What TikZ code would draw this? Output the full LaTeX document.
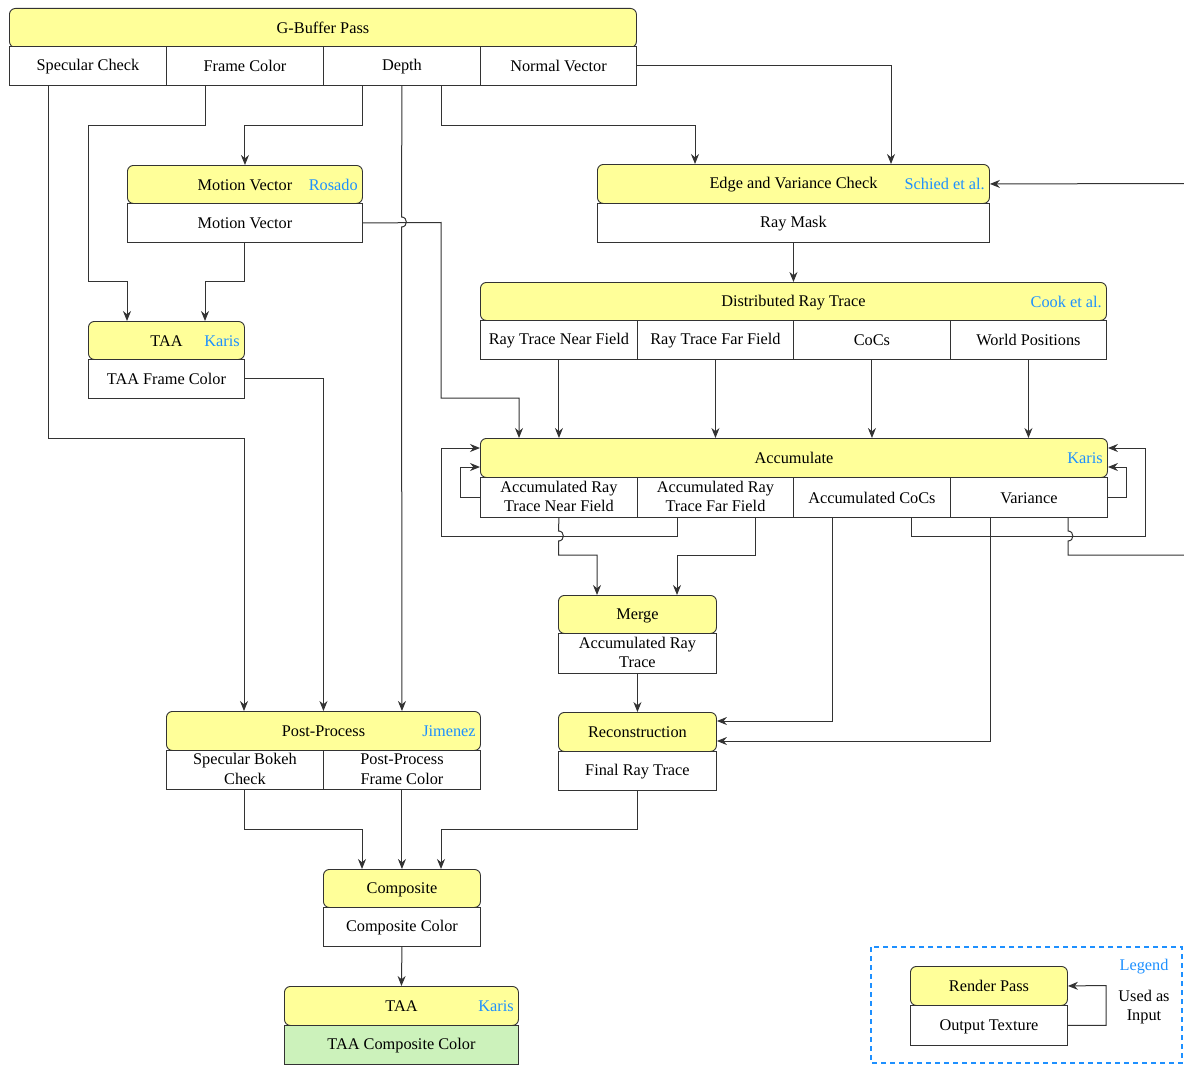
\documentclass[tikz,border=0pt]{standalone}
\usepackage{fontspec}
\setmainfont{Liberation Serif}
\usetikzlibrary{arrows.meta}

\definecolor{passyellow}{RGB}{255,255,153}
\definecolor{texgreen}{RGB}{204,242,187}
\definecolor{citeblue}{RGB}{30,144,255}
\definecolor{linegray}{RGB}{51,51,51}

\newcommand\boxstrut{\rule[-2pt]{0pt}{15.5pt}}

\tikzset{
  pass/.style={draw=linegray, line width=0.9pt, fill=passyellow, rounded corners=6pt,
    anchor=north west, inner sep=0pt, minimum height=39pt,
    execute at begin node=\boxstrut, execute at end node=\boxstrut},
  tex/.style={draw=linegray, line width=0.9pt, fill=white, anchor=north west,
    inner sep=0pt, minimum height=39pt, align=center,
    execute at begin node=\boxstrut, execute at end node=\boxstrut},
  cite/.style={text=citeblue, anchor=east, xshift=-5pt, inner sep=0pt,
    execute at begin node=\boxstrut},
  wire/.style={draw=linegray, line width=1pt},
  link/.style={wire, -{Stealth[length=10pt,width=8pt]}},
}

\begin{document}
\begin{tikzpicture}[x=1pt,y=-1pt,font=\fontsize{16.3}{19.5}\selectfont]
\useasboundingbox (0,0) rectangle (1184,1065);

% G-Buffer pass
\node[pass, minimum width=627pt] (gbuf) at (9,8) {G-Buffer Pass};
\foreach \n/\x/\w/\t in {gbufSpec/9/157/Specular Check, gbufFrame/166/157/Frame Color,
    gbufDepth/323/157/Depth, gbufNormal/480/156/Normal Vector}
  \node[tex, minimum width=\w pt] (\n) at (\x,46) {\t};

% motion vector
\node[pass, minimum width=235pt, minimum height=38pt] (mv) at (127,165) {Motion Vector};
\node[cite] (mvCite) at (mv.east) {Rosado};
\node[tex, minimum width=235pt] (mvOut) at (127,203) {Motion Vector};

% edge and variance check
\node[pass, minimum width=392pt] (edge) at (597,164) {Edge and Variance Check};
\node[cite] (edgeCite) at (edge.east) {Schied et al.};
\node[tex, minimum width=392pt] (rayMask) at (597,203) {Ray Mask};

% distributed ray trace
\node[pass, minimum width=626pt, minimum height=38pt] (drt) at (480,282) {Distributed Ray Trace};
\node[cite] (drtCite) at (drt.east) {Cook et al.};
\foreach \n/\x/\w/\t in {drtNear/480/157/Ray Trace Near Field, drtFar/637/156/Ray Trace Far Field,
    drtCoc/793/157/CoCs, drtWorld/950/156/World Positions}
  \node[tex, minimum width=\w pt] (\n) at (\x,320) {\t};

% TAA on the frame
\node[pass, minimum width=156pt, minimum height=38pt] (taa) at (88,321) {TAA};
\node[cite] (taaCite) at (taa.east) {Karis};
\node[tex, minimum width=156pt] (taaOut) at (88,359) {TAA Frame Color};

% accumulate
\node[pass, minimum width=627pt] (acc) at (480,438) {Accumulate};
\node[cite] (accCite) at (acc.east) {Karis};
\foreach \n/\x/\w/\t in {accNear/480/157/{Accumulated Ray\\Trace Near Field},
    accFar/637/156/{Accumulated Ray\\Trace Far Field},
    accCoc/793/157/Accumulated CoCs, accVar/950/157/Variance}
  \node[tex, minimum width=\w pt, minimum height=40pt] (\n) at (\x,477) {\t};

% merge and reconstruction
\node[pass, minimum width=158pt, minimum height=38pt] (merge) at (558,595) {Merge};
\node[tex, minimum width=158pt, minimum height=40pt] (mergeOut) at (558,633) {Accumulated Ray\\Trace};
\node[pass, minimum width=158pt] (recon) at (558,712) {Reconstruction};
\node[tex, minimum width=158pt] (reconOut) at (558,751) {Final Ray Trace};

% post-process
\node[pass, minimum width=314pt] (post) at (166,711) {Post-Process};
\node[cite] (postCite) at (post.east) {Jimenez};
\node[tex, minimum width=157pt] (postSpec) at (166,750) {Specular Bokeh\\Check};
\node[tex, minimum width=157pt] (postFrame) at (323,750) {Post-Process\\Frame Color};

% composite and final TAA
\node[pass, minimum width=157pt, minimum height=38pt] (comp) at (323,869) {Composite};
\node[tex, minimum width=157pt] (compOut) at (323,907) {Composite Color};
\node[pass, minimum width=234pt] (taa2) at (284,986) {TAA};
\node[cite] (taa2Cite) at (taa2.east) {Karis};
\node[tex, minimum width=234pt, fill=texgreen] (taa2Out) at (284,1025) {TAA Composite Color};

% legend
\draw[draw=citeblue, line width=1.2pt, dash pattern=on 5pt off 4pt] (871,947) rectangle (1182,1063);
\node[pass, minimum width=157pt] (legPass) at (910,966) {Render Pass};
\node[tex, minimum width=157pt, minimum height=40pt] (legOut) at (910,1005) {Output Texture};
\node[text=citeblue] (legTitle) at (1144,967) {Legend};
\node[align=center] (legUsed) at (1144,1007) {Used as\\Input};
\draw[link] (legOut.east) -| (1106,985.5) -- (legPass.east);

% from the G-Buffer
\draw[link] (gbufSpec.south -| 48,0) -- (48,438) -| (post.north -| 244,0);
\draw[link] (gbufFrame.south -| 205,0) -- (205,125) -| (88,281) -| (taa.north -| 127,0);
\draw[link] (gbufDepth.south -| 362,0) -- (362,125) -| (mv.north);
\draw[link] (gbufDepth.south) -- (401.5,217) .. controls (408,217) and (408,227) .. (401.5,227)
  -- (post.north -| gbufDepth.south);
\draw[link] (gbufDepth.south -| 441,0) -- (441,125) -| (edge.north -| 695,0);
\draw[link] (gbufNormal.east) -| (edge.north -| 891,0);

% motion vector and TAA outputs
\draw[link] (mvOut.south) -- (mvOut.south |- 0,281) -| (taa.north -| 205,0);
\draw[link] (mvOut.east) -- (441,222.5) -- (441,398) -| (acc.north -| 519,0);
\draw[link] (taaOut.east) -| (post.north);

% ray trace into accumulate
\draw[link] (rayMask.south) -- (drt.north);
\foreach \c in {drtNear,drtFar,drtCoc,drtWorld}
  \draw[link] (\c.south) -- (acc.north -| \c.south);

% accumulate outputs
\draw[link] (accNear.west) -| (460,467) -- (acc.west |- 0,467);
\draw[link] (accFar.south -| 677,0) -- (677,536) -| (441,448) -- (acc.west |- 0,448);
\draw[link] (accNear.south) -- (558.5,531) .. controls (565,531) and (565,541) .. (558.5,541)
  -- (558.5,555) -| (merge.north -| 597,0);
\draw[link] (accFar.south -| 755,0) -- (755,555) -| (merge.north -| 677,0);
\draw[link] (accCoc.south -| 911,0) -- (911,536) -| (1145,448) -- (acc.east |- 0,448);
\draw[link] (accVar.east) -| (1126,467) -- (acc.east |- 0,467);
\draw[link] (accCoc.south -| 832,0) |- (recon.east |- 0,721);
\draw[link] (accVar.south -| 990,0) |- (recon.east |- 0,741);
\draw[wire] (accVar.south -| 1068,0) -- (1068,531) .. controls (1074.5,531) and (1074.5,541) .. (1068,541)
  -- (1068,555) -- (1186,555);
\draw[link] (1186,183.5) -- (edge.east);

% down to the composite
\draw[link] (mergeOut.south) -- (recon.north);
\draw[link] (postSpec.south) -- (postSpec.south |- 0,829) -| (comp.north -| 362,0);
\draw[link] (postFrame.south) -- (comp.north);
\draw[link] (reconOut.south) -- (reconOut.south |- 0,829) -| (comp.north -| 441,0);
\draw[link] (compOut.south) -- (taa2.north);

\end{tikzpicture}
\end{document}
